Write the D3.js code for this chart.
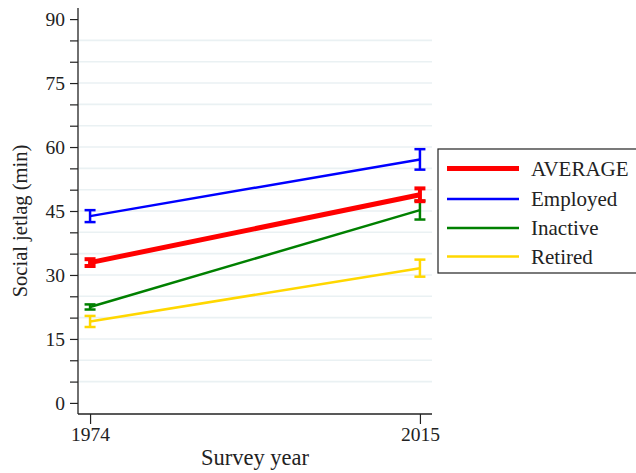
<!DOCTYPE html>
<html><head><meta charset="utf-8">
<script src="https://cdn.jsdelivr.net/npm/d3@7"></script>
<style>body{margin:0;background:#fff}svg{display:block}text{font-family:"Liberation Serif","Times New Roman",serif;fill:#222}</style>
</head><body><div id="c"></div>
<script>
const years = [1974, 2015];
const seriesNames = ["AVERAGE", "Employed", "Inactive", "Retired"];
const seriesColors = ["#ff0000", "#0000ff", "#008000", "#ffd700"];
const seriesWidths = [5, 2.5, 2.5, 2.5];
const averageVals = [32.9, 48.8];
const averageErr = [0.8, 1.5];
const employedVals = [43.8, 57.1];
const employedErr = [1.4, 2.4];
const inactiveVals = [22.5, 45.2];
const inactiveErr = [0.6, 2.2];
const retiredVals = [19.1, 31.6];
const retiredErr = [1.3, 2.0];
const yTickLabels = [0, 15, 30, 45, 60, 75, 90];
const yMinorTicks = d3.range(0, 91, 5);
const gridVals = d3.range(5, 90, 5);

const series = [
  {name: seriesNames[0], vals: averageVals, err: averageErr, color: seriesColors[0], w: seriesWidths[0]},
  {name: seriesNames[1], vals: employedVals, err: employedErr, color: seriesColors[1], w: seriesWidths[1]},
  {name: seriesNames[2], vals: inactiveVals, err: inactiveErr, color: seriesColors[2], w: seriesWidths[2]},
  {name: seriesNames[3], vals: retiredVals, err: retiredErr, color: seriesColors[3], w: seriesWidths[3]}
];

const W = 636, H = 473;
const FONT = "'Liberation Serif', 'Times New Roman', serif";
const svg = d3.select("#c").append("svg").attr("width", W).attr("height", H);

const x = d3.scaleLinear().domain([1972.5, 2016.5]).range([78, 432]);
const y = d3.scaleLinear().domain([-2.6, 92.6]).range([414, 8]);

// gridlines
svg.append("g").selectAll("line").data(gridVals).join("line")
  .attr("x1", 79).attr("x2", 432).attr("y1", d => y(d)).attr("y2", d => y(d))
  .attr("stroke", "#eaf1f3").attr("stroke-width", 1.6);

// y axis
const ya = svg.append("g").attr("transform", "translate(78,0)");
ya.call(d3.axisLeft(y).tickValues(yMinorTicks).tickSize(8).tickFormat(d => yTickLabels.includes(d) ? d : ""));
ya.attr("font-family", FONT).attr("font-size", 19.5);
ya.select(".domain").attr("d", "M0,8V414").attr("stroke", "#222").attr("stroke-width", 1.3);
ya.selectAll(".tick line").attr("stroke", "#222").attr("stroke-width", 1.2);
ya.selectAll(".tick text").attr("x", -13).attr("dy", "0.34em").attr("fill", "#222");

// x axis
const xa = svg.append("g").attr("transform", "translate(0,414)");
xa.call(d3.axisBottom(x).tickValues(years).tickSize(10).tickFormat(d3.format("d")));
xa.attr("font-family", FONT).attr("font-size", 19.5);
xa.select(".domain").attr("d", "M78,0H432").attr("stroke", "#222").attr("stroke-width", 1.3);
xa.selectAll(".tick line").attr("stroke", "#222").attr("stroke-width", 1.2);
xa.selectAll(".tick text").attr("y", 13).attr("fill", "#222");

// axis titles
svg.append("text").attr("x", 255).attr("y", 465).attr("text-anchor", "middle").style("font-size", "22.5px").text("Survey year");
svg.append("text").attr("transform", "translate(27,221) rotate(-90)").attr("text-anchor", "middle").style("font-size", "20.5px").text("Social jetlag (min)");

// series: draw in reverse so AVERAGE is on top
const line = d3.line().x((d, i) => x(years[i])).y(d => y(d));
const order = [3, 2, 1, 0];
order.forEach(k => {
  const s = series[k];
  const g = svg.append("g");
  g.append("path").attr("d", line(s.vals)).attr("fill", "none").attr("stroke", s.color).attr("stroke-width", s.w);
  const cap = 5.5;
  const ew = k === 0 ? 4 : 2.5;
  s.vals.forEach((v, i) => {
    const cx = x(years[i]);
    const lo = y(v - s.err[i]), hi = y(v + s.err[i]);
    g.append("line").attr("x1", cx).attr("x2", cx).attr("y1", lo).attr("y2", hi).attr("stroke", s.color).attr("stroke-width", ew);
    [lo, hi].forEach(yy => g.append("line").attr("x1", cx - cap).attr("x2", cx + cap).attr("y1", yy).attr("y2", yy).attr("stroke", s.color).attr("stroke-width", ew));
  });
});

// legend
const lg = svg.append("g");
lg.append("rect").attr("x", 438).attr("y", 149).attr("width", 200).attr("height", 124).attr("fill", "#fff").attr("stroke", "#222").attr("stroke-width", 1.2);
const rowY = [168.5, 199, 228, 256.5];
series.forEach((s, i) => {
  lg.append("line").attr("x1", 447).attr("x2", 519).attr("y1", rowY[i]).attr("y2", rowY[i]).attr("stroke", s.color).attr("stroke-width", s.w);
  lg.append("text").attr("x", 531).attr("y", rowY[i] + 7).style("font-size", "21px").text(s.name);
});
</script></body></html>
